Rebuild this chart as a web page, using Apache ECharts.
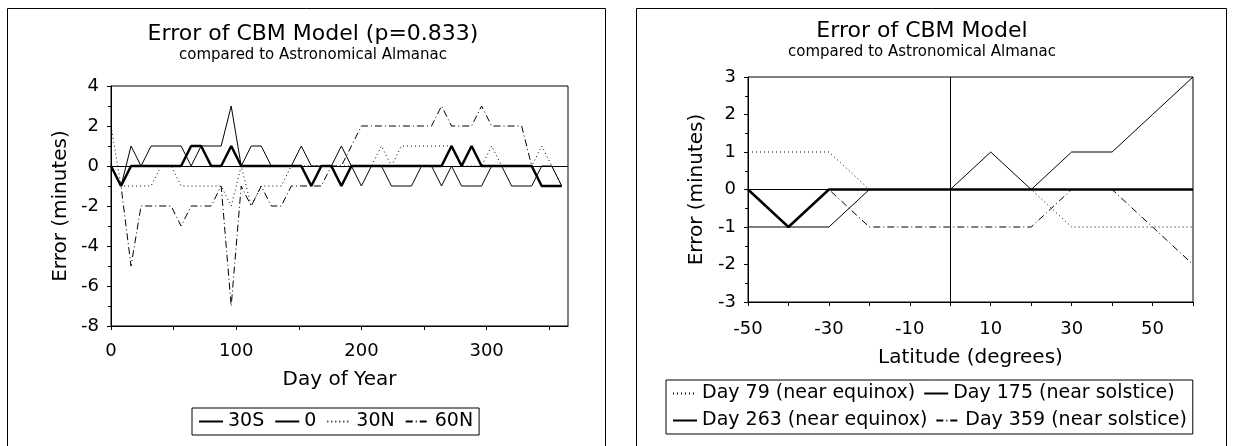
<!DOCTYPE html>
<html>
<head>
<meta charset="utf-8">
<title>Error of CBM Model</title>
<script src="https://cdn.jsdelivr.net/npm/echarts@6/dist/echarts.min.js"></script>
<style>
  html, body { margin: 0; padding: 0; background: #fff; }
  #chart { width: 1233px; height: 446px; }
</style>
</head>
<body>
<div id="chart"></div>
<script>
// left chart: error by day of year, one series per latitude
const days = [0, 8, 16, 24, 32, 40, 48, 56, 64, 72, 80, 88, 96, 104, 112, 120, 128, 136, 144, 152, 160, 168, 176, 184,
  192, 200, 208, 216, 224, 232, 240, 248, 256, 264, 272, 280, 288, 296, 304, 312, 320, 328, 336, 344, 352, 360];
const err30S = [0, -1, 1, 0, 1, 1, 1, 1, 0, 1, 1, 1, 3, 0, 1, 1, 0, 0, 0, 1, 0, 0, 0, 1,
  0, -1, 0, 0, -1, -1, -1, 0, 0, -1, 0, -1, -1, -1, 0, 0, -1, -1, -1, 0, 0, -1];
const err0 = [0, -1, 0, 0, 0, 0, 0, 0, 1, 1, 0, 0, 1, 0, 0, 0, 0, 0, 0, 0, -1, 0, 0, -1,
  0, 0, 0, 0, 0, 0, 0, 0, 0, 0, 1, 0, 1, 0, 0, 0, 0, 0, 0, -1, -1, -1];
const err30N = [2, -1, -1, -1, -1, 0, 0, -1, -1, -1, -1, -1, -2, 0, -2, -1, -1, -1, 0, 0, 0, 0, 0, 0,
  0, 0, 0, 1, 0, 1, 1, 1, 1, 1, 1, 0, 0, 0, 1, 0, 0, 0, 0, 1, 0, -1];
const err60N = [0, -1, -5, -2, -2, -2, -2, -3, -2, -2, -2, -1, -7, -1, -2, -1, -2, -2, -1, -1, -1, -1, 0, 0,
  1, 2, 2, 2, 2, 2, 2, 2, 2, 3, 2, 2, 2, 3, 2, 2, 2, 2, 0, -1, -1, -1];

// right chart: error by latitude, one series per day
const latitudes = [-50, -40, -30, -20, -10, 0, 10, 20, 30, 40, 50, 60];
const day79 = [1, 1, 1, 0, 0, 0, 0, 0, -1, -1, -1, -1];
const day175 = [0, -1, 0, 0, 0, 0, 0, 0, 0, 0, 0, 0];
const day263 = [-1, -1, -1, 0, 0, 0, 1, 0, 1, 1, 2, 3];
const day359 = [0, 0, 0, -1, -1, -1, -1, -1, 0, 0, -1, -2];

const font = 'DejaVu Sans';
const dotted = [1, 3];
const dashDot = [7, 3, 1, 3];

function pairs(xs, ys) {
  return xs.map((x, i) => [x, ys[i]]);
}

function lineSeries(name, axis, data, width, type) {
  return {
    name: name,
    type: 'line',
    xAxisIndex: axis,
    yAxisIndex: axis,
    data: data,
    symbol: 'none',
    color: '#000',
    lineStyle: { color: '#000', width: width, type: type },
    silent: true
  };
}

const zeroLine = {
  silent: true,
  symbol: 'none',
  label: { show: false },
  lineStyle: { color: '#000', width: 1, type: 'solid' }
};

const s30S = lineSeries('30S', 0, pairs(days, err30S), 1, 'solid');
s30S.markLine = Object.assign({ data: [{ yAxis: 0 }] }, zeroLine);
const s79 = lineSeries('Day 79 (near equinox)', 1, pairs(latitudes, day79), 1, dotted);
s79.markLine = Object.assign({ data: [{ yAxis: 0 }, { xAxis: 0 }] }, zeroLine);

const axisLine = { show: true, onZero: false, lineStyle: { color: '#000', width: 1 } };
const tick = { show: true, length: 4, lineStyle: { color: '#000' } };
const minor = { show: true, splitNumber: 2, length: 3, lineStyle: { color: '#000' } };
const label = { color: '#000', fontFamily: font, fontSize: 18 };
const nameStyle = { color: '#000', fontFamily: font, fontSize: 20 };
// legend shows the line sample only, no marker
const legendMarker = { color: 'rgba(0,0,0,0)', borderColor: 'rgba(0,0,0,0)', borderWidth: 0, opacity: 0 };

const option = {
  backgroundColor: '#fff',
  animation: false,
  title: [
    {
      text: 'Error of CBM Model (p=0.833)',
      subtext: 'compared to Astronomical Almanac',
      left: 313, top: 23, textAlign: 'center', padding: 0, itemGap: 3,
      textStyle: { color: '#000', fontFamily: font, fontSize: 22, fontWeight: 'normal' },
      subtextStyle: { color: '#000', fontFamily: font, fontSize: 15 }
    },
    {
      text: 'Error of CBM Model',
      subtext: 'compared to Astronomical Almanac',
      left: 922, top: 20, textAlign: 'center', padding: 0, itemGap: 3,
      textStyle: { color: '#000', fontFamily: font, fontSize: 22, fontWeight: 'normal' },
      subtextStyle: { color: '#000', fontFamily: font, fontSize: 15 }
    }
  ],
  legend: [
    {
      data: ['30S', '0', '30N', '60N'],
      left: 192, top: 408, padding: [4, 6],
      itemWidth: 24, itemHeight: 14, itemGap: 10,
      itemStyle: legendMarker,
      borderColor: '#000', borderWidth: 1,
      textStyle: { color: '#000', fontFamily: font, fontSize: 19 }
    },
    {
      data: ['Day 79 (near equinox)', 'Day 175 (near solstice)', 'Day 263 (near equinox)', 'Day 359 (near solstice)'],
      left: 666, top: 380, width: 520, padding: [4, 6],
      itemWidth: 24, itemHeight: 14, itemGap: 8,
      itemStyle: legendMarker,
      borderColor: '#000', borderWidth: 1,
      textStyle: { color: '#000', fontFamily: font, fontSize: 19 }
    }
  ],
  graphic: [
    { type: 'rect', shape: { x: 7.5, y: 8.5, width: 598, height: 460 }, style: { fill: 'none', stroke: '#000', lineWidth: 1 } },
    { type: 'rect', shape: { x: 636.5, y: 8.5, width: 590, height: 460 }, style: { fill: 'none', stroke: '#000', lineWidth: 1 } }
  ],
  grid: [
    { left: 111, top: 86, width: 457, height: 240, show: true, borderColor: '#000', borderWidth: 1, backgroundColor: 'transparent' },
    { left: 748, top: 77, width: 445, height: 225, show: true, borderColor: '#000', borderWidth: 1, backgroundColor: 'transparent' }
  ],
  xAxis: [
    {
      gridIndex: 0, type: 'value', min: 0, max: 365, interval: 50,
      name: 'Day of Year', nameLocation: 'middle', nameGap: 44, nameTextStyle: nameStyle,
      axisLine: axisLine, axisTick: tick, splitLine: { show: false },
      axisLabel: Object.assign({ margin: 16, showMaxLabel: false, formatter: v => (v % 100 === 0 ? String(v) : '') }, label)
    },
    {
      gridIndex: 1, type: 'value', min: -50, max: 60, interval: 10,
      name: 'Latitude (degrees)', nameLocation: 'middle', nameGap: 46, nameTextStyle: nameStyle,
      axisLine: axisLine, axisTick: tick, splitLine: { show: false },
      axisLabel: Object.assign({ margin: 18, formatter: v => ((v + 50) % 20 === 0 && v < 60 ? String(v) : '') }, label)
    }
  ],
  yAxis: [
    {
      gridIndex: 0, type: 'value', min: -8, max: 4, interval: 2,
      name: 'Error (minutes)', nameLocation: 'middle', nameGap: 40, nameTextStyle: nameStyle,
      axisLine: axisLine, axisTick: tick, minorTick: minor, splitLine: { show: false },
      axisLabel: Object.assign({ margin: 12 }, label)
    },
    {
      gridIndex: 1, type: 'value', min: -3, max: 3, interval: 1,
      name: 'Error (minutes)', nameLocation: 'middle', nameGap: 41, nameTextStyle: nameStyle,
      axisLine: axisLine, axisTick: tick, minorTick: minor, splitLine: { show: false },
      axisLabel: Object.assign({ margin: 12 }, label)
    }
  ],
  series: [
    s30S,
    lineSeries('0', 0, pairs(days, err0), 2.5, 'solid'),
    lineSeries('30N', 0, pairs(days, err30N), 1, dotted),
    lineSeries('60N', 0, pairs(days, err60N), 1, dashDot),
    s79,
    lineSeries('Day 175 (near solstice)', 1, pairs(latitudes, day175), 2.5, 'solid'),
    lineSeries('Day 263 (near equinox)', 1, pairs(latitudes, day263), 1, 'solid'),
    lineSeries('Day 359 (near solstice)', 1, pairs(latitudes, day359), 1, dashDot)
  ]
};

const myChart = echarts.init(document.getElementById('chart'));
myChart.setOption(option);
</script>
</body>
</html>
